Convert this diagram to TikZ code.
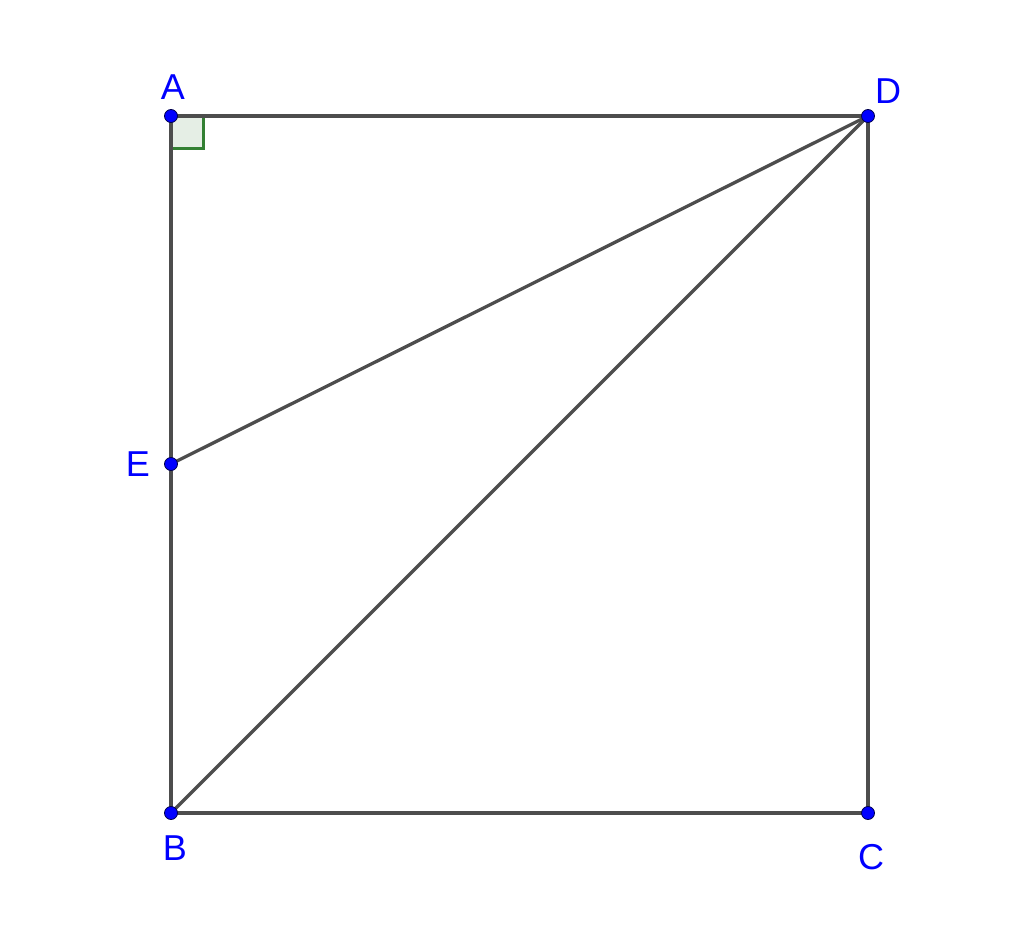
\documentclass[tikz,border=0pt]{standalone}
\usepackage{fontspec}
\setmainfont{Liberation Sans}
\definecolor{seg}{HTML}{4D4D4D}
\definecolor{ptblue}{HTML}{0000FF}
\definecolor{lbl}{HTML}{0000FF}
\definecolor{angG}{HTML}{338033}
\definecolor{angF}{HTML}{E5EEE5}
\begin{document}
\begin{tikzpicture}[x=1pt,y=-1pt,
  seg/.style={draw=seg,line width=3.3pt},
  pt/.style={circle,fill=ptblue,draw=black!70!blue,line width=0.8pt,inner sep=0pt,minimum size=13pt},
  lab/.style={text=lbl,font=\fontsize{36}{36}\selectfont,inner sep=0pt}]
\useasboundingbox (0,0) rectangle (1024,942);
\fill[white] (0,0) rectangle (1024,942);
\coordinate (A) at (171,116);
\coordinate (D) at (868,116);
\coordinate (B) at (171,813);
\coordinate (C) at (868,813);
\coordinate (E) at (171,464);
\filldraw[fill=angF,draw=angG,line width=3pt] (171,116) rectangle (203,148);
\draw[seg] (A) -- (D) -- (C) -- (B) -- cycle;
\draw[seg] (E) -- (D);
\draw[seg] (B) -- (D);
\node[pt] (pA) at (A) {};
\node[pt] (pD) at (D) {};
\node[pt] (pB) at (B) {};
\node[pt] (pC) at (C) {};
\node[pt] (pE) at (E) {};
\node[lab] (lA) at (173,87) {A};
\node[lab] (lD) at (888,91) {D};
\node[lab] (lE) at (138,464) {E};
\node[lab] (lB) at (175,848) {B};
\node[lab] (lC) at (871,857) {C};
\end{tikzpicture}
\end{document}
